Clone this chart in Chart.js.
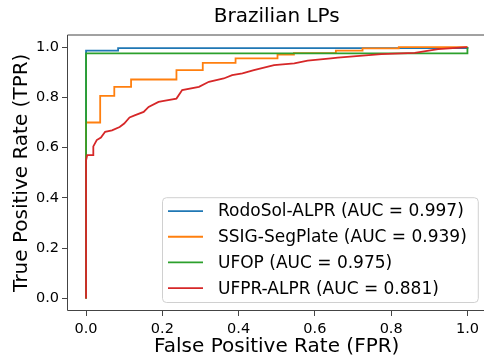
<!DOCTYPE html>
<html>
<head>
<meta charset="utf-8">
<script src="https://cdn.jsdelivr.net/npm/chart.js@4.4.1/dist/chart.umd.min.js"></script>
<style>
html, body { margin: 0; padding: 0; overflow: hidden; background: #fff; }
#wrap { width: 546px; height: 356px; }
</style>
</head>
<body>
<div id="wrap"><canvas id="roc" width="546" height="356"></canvas></div>
<script>
// --- data ---
const seriesNames = ['RodoSol-ALPR', 'SSIG-SegPlate', 'UFOP', 'UFPR-ALPR'];
const seriesAuc = ['0.997', '0.939', '0.975', '0.881'];
const seriesColors = ['#1f77b4', '#ff7f0e', '#2ca02c', '#d62728'];

const rodosolFpr = [0, 0, 0.084, 0.084, 1, 1];
const rodosolTpr = [0, 0.986, 0.986, 0.996, 0.996, 1];

const ssigFpr = [0, 0, 0.037, 0.037, 0.074, 0.074, 0.118, 0.118, 0.237, 0.237, 0.306, 0.306, 0.392, 0.392,
                 0.502, 0.502, 0.545, 0.545, 0.655, 0.655, 0.725, 0.725, 0.82, 0.82, 1];
const ssigTpr = [0, 0.70, 0.70, 0.806, 0.806, 0.842, 0.842, 0.871, 0.871, 0.908, 0.908, 0.9375, 0.9375, 0.955,
                 0.955, 0.970, 0.970, 0.976, 0.976, 0.986, 0.986, 0.995, 0.995, 1, 1];

const ufopFpr = [0, 0, 1, 1];
const ufopTpr = [0, 0.975, 0.975, 1];

const ufprFpr = [0, 0, 0.003, 0.019, 0.019, 0.028, 0.039, 0.05, 0.068, 0.088, 0.1, 0.114, 0.129, 0.151, 0.164,
                 0.19, 0.204, 0.237, 0.252, 0.296, 0.322, 0.361, 0.383, 0.41, 0.44, 0.493, 0.546, 0.581, 0.642,
                 0.66, 0.774, 0.862, 0.923, 1];
const ufprTpr = [0, 0.55, 0.57, 0.57, 0.605, 0.63, 0.64, 0.663, 0.669, 0.682, 0.696, 0.72, 0.729, 0.742, 0.762,
                 0.782, 0.786, 0.795, 0.829, 0.842, 0.862, 0.875, 0.888, 0.895, 0.908, 0.928, 0.935, 0.946, 0.955,
                 0.958, 0.972, 0.977, 0.992, 1];

const xTicks = [0, 0.2, 0.4, 0.6, 0.8, 1.0];
const yTicks = [0, 0.2, 0.4, 0.6, 0.8, 1.0];

const allFpr = [rodosolFpr, ssigFpr, ufopFpr, ufprFpr];
const allTpr = [rodosolTpr, ssigTpr, ufopTpr, ufprTpr];

Chart.defaults.font.family = '"DejaVu Sans", sans-serif';
Chart.defaults.color = '#000';

const spine = '#444';

// frame (right side falls off the page, as in the reference) + legend box lower right
const frameAndLegend = {
    id: 'frameAndLegend',
    afterDatasetsDraw(chart) {
        const { ctx, chartArea: a } = chart;
        ctx.save();
        ctx.strokeStyle = spine;
        ctx.lineWidth = 1;
        ctx.beginPath();
        ctx.moveTo(a.right, a.top + 0.5);
        ctx.lineTo(a.left + 0.5, a.top + 0.5);
        ctx.lineTo(a.left + 0.5, a.bottom - 0.5);
        ctx.lineTo(a.right, a.bottom - 0.5);
        ctx.stroke();

        ctx.font = '17px "DejaVu Sans"';
        const texts = chart.data.datasets.map(d => d.label);
        const tw = Math.max(...texts.map(t => ctx.measureText(t).width));
        const rowH = 25.7, padL = 6, handle = 35, gap = 15, padR = 11, padV = 1;
        const w = padL + handle + gap + tw + padR;
        const h = padV * 2 + rowH * texts.length;
        const x = 162, y = a.bottom - 9 - h;

        ctx.beginPath();
        ctx.roundRect(x + 0.5, y + 0.5, w, h, 4);
        ctx.fillStyle = 'rgba(255,255,255,0.8)';
        ctx.fill();
        ctx.strokeStyle = '#d0d0d0';
        ctx.stroke();

        ctx.textBaseline = 'middle';
        ctx.textAlign = 'left';
        chart.data.datasets.forEach((d, i) => {
            const cy = y + padV + rowH * (i + 0.5);
            ctx.strokeStyle = d.borderColor;
            ctx.lineWidth = 1.8;
            ctx.beginPath();
            ctx.moveTo(x + padL, cy);
            ctx.lineTo(x + padL + handle, cy);
            ctx.stroke();
            ctx.fillStyle = '#000';
            ctx.fillText(d.label, x + padL + handle + gap, cy + 1);
        });
        ctx.restore();
    }
};

const datasets = seriesNames.map((name, i) => ({
    label: name + ' (AUC = ' + seriesAuc[i] + ')',
    data: allFpr[i].map((fx, j) => ({ x: fx, y: allTpr[i][j] })),
    borderColor: seriesColors[i],
    borderWidth: 1.8,
    pointRadius: 0,
    tension: 0,
    fill: false,
    order: seriesNames.length - i   // later series drawn on top
}));

new Chart(document.getElementById('roc'), {
    type: 'line',
    data: { datasets },
    options: {
        responsive: false,
        animation: false,
        layout: { padding: { left: 0, right: 59.5, top: 0, bottom: 0 } },
        plugins: {
            legend: { display: false },
            tooltip: { enabled: false },
            title: {
                display: true,
                fullSize: false,   // centre over the plot area, not the canvas
                text: 'Brazilian LPs',
                font: { size: 20, weight: 'normal' },
                color: '#000',
                padding: { top: 5, bottom: 5.5 }
            }
        },
        scales: {
            x: {
                type: 'linear',
                min: -0.05,
                max: 1.05,
                afterBuildTicks: s => { s.ticks = xTicks.map(v => ({ value: v })); },
                afterFit: s => { s.height = 45; },
                ticks: { font: { size: 14.5 }, color: '#000', padding: 5,
                         callback: v => v.toFixed(1) },
                grid: { display: true, drawOnChartArea: false, drawTicks: true, tickLength: 5, color: spine },
                border: { display: false },
                title: { display: true, text: 'False Positive Rate (FPR)', font: { size: 20, lineHeight: 0.9 },
                         color: '#000', padding: { top: 0, bottom: 0 } }
            },
            y: {
                type: 'linear',
                min: -0.05,
                max: 1.05,
                afterBuildTicks: s => { s.ticks = yTicks.map(v => ({ value: v })); },
                afterFit: s => { s.width = 67; },
                ticks: { font: { size: 14.5 }, color: '#000', padding: 3,
                         callback: v => v.toFixed(1) },
                grid: { display: true, drawOnChartArea: false, drawTicks: true, tickLength: 5, color: spine },
                border: { display: false },
                title: { display: true, text: 'True Positive Rate (TPR)', font: { size: 20 },
                         color: '#000', padding: { top: 9.5, bottom: 0 } }
            }
        }
    },
    plugins: [frameAndLegend]
});
</script>
</body>
</html>
